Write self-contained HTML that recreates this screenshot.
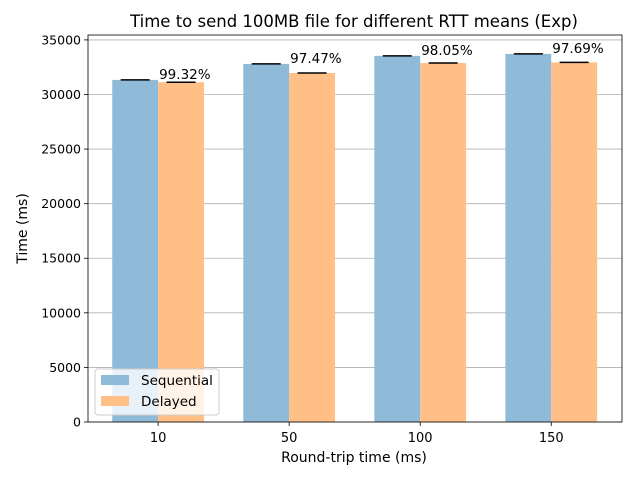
<!DOCTYPE html>
<html><head><meta charset="utf-8"><style>
body{margin:0;background:#fff;font-family:"DejaVu Sans","Liberation Sans",sans-serif}
svg text{font-family:"DejaVu Sans","Liberation Sans",sans-serif}
</style></head><body>
<svg id="c" width="640" height="480" xmlns="http://www.w3.org/2000/svg"></svg>
<script>
const categories=["10","50","100","150"];
const sequential=[31335,32800,33535,33720];
const delayed=[31122,31970,32881,32941];
const pctLabels=["99.32%","97.47%","98.05%","97.69%"];
const yTicks=[0,5000,10000,15000,20000,25000,30000,35000];
const L=88,R=622,T=35,B=422,yMax=35450,xMin=-0.535,xMax=3.54;
const X=v=>L+(v-xMin)/(xMax-xMin)*(R-L);
const Y=v=>B-v/yMax*(B-T);
const s=document.getElementById('c');const NS="http://www.w3.org/2000/svg";
function mk(t,a,p){const e=document.createElementNS(NS,t);for(const k in a)e.setAttribute(k,a[k]);(p||s).appendChild(e);return e;}
const g=mk('g',{});
yTicks.forEach(v=>{mk('line',{x1:L,x2:R,y1:Y(v),y2:Y(v),stroke:'#b0b0b0','stroke-width':0.8},g);});
const w=0.35;
categories.forEach((c,i)=>{
  const b1=mk('rect',{x:X(i-w),y:Y(sequential[i]),width:X(i)-X(i-w),height:B-Y(sequential[i]),fill:'#8fbbd9'});
  
  const b2=mk('rect',{x:X(i),y:Y(delayed[i]),width:X(i+w)-X(i),height:B-Y(delayed[i]),fill:'#ffbf86'});
  
  [[i-w/2,sequential[i]],[i+w/2,delayed[i]]].forEach(([xc,v])=>{
    const e=mk('line',{x1:X(xc)-14.5,x2:X(xc)+14.5,y1:Y(v),y2:Y(v),stroke:'#000','stroke-width':1.5});
    
  });
  const t=mk('text',{x:X(i)+1,y:Y(sequential[i])-1,'font-size':13.5});t.textContent=pctLabels[i];
  
  mk('line',{x1:X(i),x2:X(i),y1:B,y2:B+4,stroke:'#000','stroke-width':0.8});
  const xl=mk('text',{x:X(i),y:B+20,'font-size':13,'text-anchor':'middle'});xl.textContent=c;
  
});
yTicks.forEach(v=>{mk('line',{x1:L-4,x2:L,y1:Y(v),y2:Y(v),stroke:'#000','stroke-width':0.8});
  const t=mk('text',{x:L-7,y:Y(v)+4.5,'font-size':12.5,'text-anchor':'end'});t.textContent=v;
  });
const fr=mk('rect',{x:L,y:T,width:R-L,height:B-T,fill:'none',stroke:'#000','stroke-width':0.8});

let t=mk('text',{x:(L+R)/2-1,y:27,'font-size':16.5,'text-anchor':'middle'});t.textContent='Time to send 100MB file for different RTT means (Exp)';

t=mk('text',{x:(L+R)/2-1,y:462,'font-size':14,'text-anchor':'middle'});t.textContent='Round-trip time (ms)';

t=mk('text',{x:27,y:(T+B)/2,'font-size':14,'text-anchor':'middle',transform:'rotate(-90 27 '+(T+B)/2+')'});t.textContent='Time (ms)';

const lg=mk('g',{});
mk('rect',{x:95,y:369,width:124,height:46,rx:3,fill:'#fff','fill-opacity':0.8,stroke:'#ccc'},lg);
mk('rect',{x:101,y:375,width:28,height:10,fill:'#8fbbd9'},lg);
mk('rect',{x:101,y:396,width:28,height:10,fill:'#ffbf86'},lg);
t=mk('text',{x:141,y:385,'font-size':13.5},lg);t.textContent='Sequential';

t=mk('text',{x:141,y:406,'font-size':13.5},lg);t.textContent='Delayed';

</script></body></html>
